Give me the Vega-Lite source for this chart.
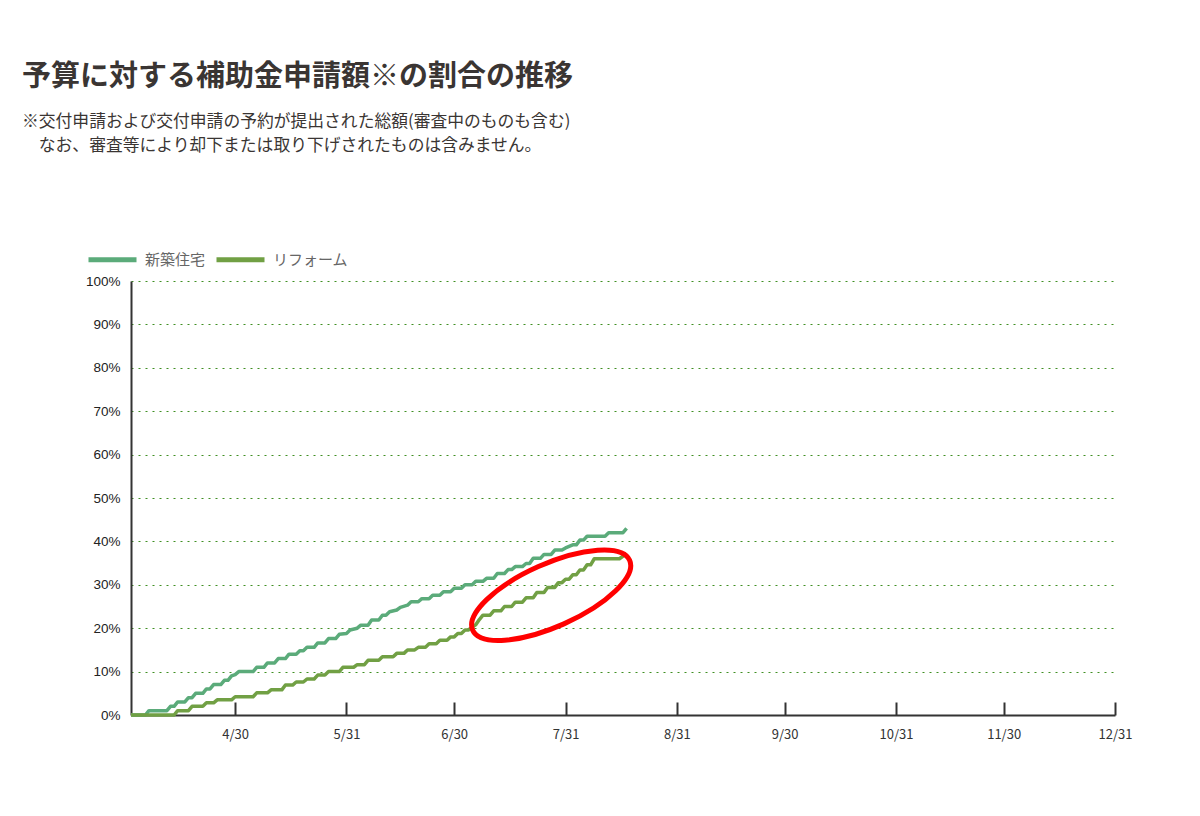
{
  "$schema": "https://vega.github.io/schema/vega-lite/v6.json",
  "width": 984,
  "height": 434,
  "autosize": "none",
  "padding": {"left": 131, "top": 281, "right": 85, "bottom": 101},
  "background": "white",
  "title": {
    "text": "予算に対する補助金申請額※の割合の推移",
    "subtitle": ["※交付申請および交付申請の予約が提出された総額(審査中のものも含む)", "\u200b\u3000なお、審査等により却下または取り下げされたものは含みません。"],
    "anchor": "start",
    "frame": "group",
    "dx": -109,
    "offset": 78,
    "font": "Noto Sans CJK JP",
    "fontSize": 29,
    "fontWeight": "bold",
    "color": "#3a3533",
    "subtitleFont": "Noto Sans CJK JP",
    "subtitleFontSize": 16.8,
    "subtitleColor": "#3a3533",
    "subtitlePadding": 22,
    "subtitleLineHeight": 24
  },
  "config": {
    "view": {"stroke": null},
    "font": "Noto Sans CJK JP"
  },
  "layer": [
    {
      "data": {
        "values": [
          {"series": "新築住宅", "date": "2024-04-01", "value": 0},
          {"series": "新築住宅", "date": "2024-04-05", "value": 0},
          {"series": "新築住宅", "date": "2024-04-06", "value": 1.0},
          {"series": "新築住宅", "date": "2024-04-11", "value": 1.0},
          {"series": "新築住宅", "date": "2024-04-12", "value": 2.0},
          {"series": "新築住宅", "date": "2024-04-13", "value": 2.0},
          {"series": "新築住宅", "date": "2024-04-14", "value": 3.0},
          {"series": "新築住宅", "date": "2024-04-16", "value": 3.0},
          {"series": "新築住宅", "date": "2024-04-17", "value": 4.0},
          {"series": "新築住宅", "date": "2024-04-18", "value": 4.0},
          {"series": "新築住宅", "date": "2024-04-19", "value": 5.0},
          {"series": "新築住宅", "date": "2024-04-21", "value": 5.0},
          {"series": "新築住宅", "date": "2024-04-22", "value": 6.0},
          {"series": "新築住宅", "date": "2024-04-23", "value": 6.0},
          {"series": "新築住宅", "date": "2024-04-24", "value": 7.0},
          {"series": "新築住宅", "date": "2024-04-26", "value": 7.0},
          {"series": "新築住宅", "date": "2024-04-27", "value": 8.0},
          {"series": "新築住宅", "date": "2024-04-28", "value": 8.0},
          {"series": "新築住宅", "date": "2024-04-29", "value": 9.0},
          {"series": "新築住宅", "date": "2024-04-30", "value": 9.3},
          {"series": "新築住宅", "date": "2024-05-01", "value": 10.0},
          {"series": "新築住宅", "date": "2024-05-05", "value": 10.0},
          {"series": "新築住宅", "date": "2024-05-06", "value": 11.0},
          {"series": "新築住宅", "date": "2024-05-08", "value": 11.0},
          {"series": "新築住宅", "date": "2024-05-09", "value": 12.0},
          {"series": "新築住宅", "date": "2024-05-11", "value": 12.0},
          {"series": "新築住宅", "date": "2024-05-12", "value": 13.0},
          {"series": "新築住宅", "date": "2024-05-14", "value": 13.0},
          {"series": "新築住宅", "date": "2024-05-15", "value": 14.0},
          {"series": "新築住宅", "date": "2024-05-17", "value": 14.0},
          {"series": "新築住宅", "date": "2024-05-18", "value": 14.8},
          {"series": "新築住宅", "date": "2024-05-19", "value": 14.8},
          {"series": "新築住宅", "date": "2024-05-20", "value": 15.6},
          {"series": "新築住宅", "date": "2024-05-22", "value": 15.6},
          {"series": "新築住宅", "date": "2024-05-23", "value": 16.6},
          {"series": "新築住宅", "date": "2024-05-25", "value": 16.6},
          {"series": "新築住宅", "date": "2024-05-26", "value": 17.6},
          {"series": "新築住宅", "date": "2024-05-28", "value": 17.6},
          {"series": "新築住宅", "date": "2024-05-29", "value": 18.6},
          {"series": "新築住宅", "date": "2024-05-31", "value": 18.8},
          {"series": "新築住宅", "date": "2024-06-01", "value": 19.6},
          {"series": "新築住宅", "date": "2024-06-03", "value": 20.0},
          {"series": "新築住宅", "date": "2024-06-04", "value": 20.7},
          {"series": "新築住宅", "date": "2024-06-06", "value": 20.7},
          {"series": "新築住宅", "date": "2024-06-07", "value": 21.9},
          {"series": "新築住宅", "date": "2024-06-09", "value": 21.9},
          {"series": "新築住宅", "date": "2024-06-10", "value": 23.0},
          {"series": "新築住宅", "date": "2024-06-11", "value": 23.0},
          {"series": "新築住宅", "date": "2024-06-12", "value": 23.8},
          {"series": "新築住宅", "date": "2024-06-14", "value": 24.2},
          {"series": "新築住宅", "date": "2024-06-15", "value": 24.8},
          {"series": "新築住宅", "date": "2024-06-17", "value": 25.3},
          {"series": "新築住宅", "date": "2024-06-18", "value": 26.1},
          {"series": "新築住宅", "date": "2024-06-20", "value": 26.1},
          {"series": "新築住宅", "date": "2024-06-21", "value": 26.8},
          {"series": "新築住宅", "date": "2024-06-23", "value": 26.8},
          {"series": "新築住宅", "date": "2024-06-24", "value": 27.6},
          {"series": "新築住宅", "date": "2024-06-26", "value": 27.6},
          {"series": "新築住宅", "date": "2024-06-27", "value": 28.4},
          {"series": "新築住宅", "date": "2024-06-29", "value": 28.4},
          {"series": "新築住宅", "date": "2024-06-30", "value": 29.2},
          {"series": "新築住宅", "date": "2024-07-02", "value": 29.2},
          {"series": "新築住宅", "date": "2024-07-03", "value": 30.0},
          {"series": "新築住宅", "date": "2024-07-05", "value": 30.0},
          {"series": "新築住宅", "date": "2024-07-06", "value": 30.8},
          {"series": "新築住宅", "date": "2024-07-08", "value": 30.8},
          {"series": "新築住宅", "date": "2024-07-09", "value": 31.5},
          {"series": "新築住宅", "date": "2024-07-11", "value": 31.5},
          {"series": "新築住宅", "date": "2024-07-12", "value": 32.6},
          {"series": "新築住宅", "date": "2024-07-14", "value": 32.6},
          {"series": "新築住宅", "date": "2024-07-15", "value": 33.5},
          {"series": "新築住宅", "date": "2024-07-16", "value": 33.5},
          {"series": "新築住宅", "date": "2024-07-17", "value": 34.2},
          {"series": "新築住宅", "date": "2024-07-19", "value": 34.2},
          {"series": "新築住宅", "date": "2024-07-20", "value": 34.9},
          {"series": "新築住宅", "date": "2024-07-21", "value": 34.9},
          {"series": "新築住宅", "date": "2024-07-22", "value": 36.1},
          {"series": "新築住宅", "date": "2024-07-24", "value": 36.1},
          {"series": "新築住宅", "date": "2024-07-25", "value": 37.0},
          {"series": "新築住宅", "date": "2024-07-27", "value": 37.0},
          {"series": "新築住宅", "date": "2024-07-28", "value": 38.0},
          {"series": "新築住宅", "date": "2024-07-30", "value": 38.0},
          {"series": "新築住宅", "date": "2024-07-31", "value": 38.5},
          {"series": "新築住宅", "date": "2024-08-02", "value": 39.2},
          {"series": "新築住宅", "date": "2024-08-03", "value": 39.2},
          {"series": "新築住宅", "date": "2024-08-04", "value": 40.3},
          {"series": "新築住宅", "date": "2024-08-05", "value": 40.3},
          {"series": "新築住宅", "date": "2024-08-06", "value": 41.2},
          {"series": "新築住宅", "date": "2024-08-11", "value": 41.2},
          {"series": "新築住宅", "date": "2024-08-12", "value": 42.0},
          {"series": "新築住宅", "date": "2024-08-16", "value": 42.0},
          {"series": "新築住宅", "date": "2024-08-17", "value": 43.0},
          {"series": "リフォーム", "date": "2024-04-01", "value": 0},
          {"series": "リフォーム", "date": "2024-04-13", "value": 0},
          {"series": "リフォーム", "date": "2024-04-14", "value": 1.0},
          {"series": "リフォーム", "date": "2024-04-17", "value": 1.0},
          {"series": "リフォーム", "date": "2024-04-18", "value": 2.0},
          {"series": "リフォーム", "date": "2024-04-21", "value": 2.0},
          {"series": "リフォーム", "date": "2024-04-22", "value": 2.8},
          {"series": "リフォーム", "date": "2024-04-24", "value": 2.8},
          {"series": "リフォーム", "date": "2024-04-25", "value": 3.5},
          {"series": "リフォーム", "date": "2024-04-29", "value": 3.5},
          {"series": "リフォーム", "date": "2024-04-30", "value": 4.2},
          {"series": "リフォーム", "date": "2024-05-05", "value": 4.2},
          {"series": "リフォーム", "date": "2024-05-06", "value": 5.1},
          {"series": "リフォーム", "date": "2024-05-09", "value": 5.1},
          {"series": "リフォーム", "date": "2024-05-10", "value": 5.8},
          {"series": "リフォーム", "date": "2024-05-13", "value": 5.8},
          {"series": "リフォーム", "date": "2024-05-14", "value": 6.9},
          {"series": "リフォーム", "date": "2024-05-16", "value": 6.9},
          {"series": "リフォーム", "date": "2024-05-17", "value": 7.6},
          {"series": "リフォーム", "date": "2024-05-19", "value": 7.6},
          {"series": "リフォーム", "date": "2024-05-20", "value": 8.3},
          {"series": "リフォーム", "date": "2024-05-22", "value": 8.3},
          {"series": "リフォーム", "date": "2024-05-23", "value": 9.2},
          {"series": "リフォーム", "date": "2024-05-25", "value": 9.2},
          {"series": "リフォーム", "date": "2024-05-26", "value": 10.0},
          {"series": "リフォーム", "date": "2024-05-29", "value": 10.0},
          {"series": "リフォーム", "date": "2024-05-30", "value": 11.0},
          {"series": "リフォーム", "date": "2024-06-02", "value": 11.0},
          {"series": "リフォーム", "date": "2024-06-03", "value": 11.6},
          {"series": "リフォーム", "date": "2024-06-05", "value": 11.6},
          {"series": "リフォーム", "date": "2024-06-06", "value": 12.6},
          {"series": "リフォーム", "date": "2024-06-09", "value": 12.6},
          {"series": "リフォーム", "date": "2024-06-10", "value": 13.4},
          {"series": "リフォーム", "date": "2024-06-13", "value": 13.4},
          {"series": "リフォーム", "date": "2024-06-14", "value": 14.2},
          {"series": "リフォーム", "date": "2024-06-16", "value": 14.2},
          {"series": "リフォーム", "date": "2024-06-17", "value": 15.0},
          {"series": "リフォーム", "date": "2024-06-19", "value": 15.0},
          {"series": "リフォーム", "date": "2024-06-20", "value": 15.6},
          {"series": "リフォーム", "date": "2024-06-22", "value": 15.6},
          {"series": "リフォーム", "date": "2024-06-23", "value": 16.4},
          {"series": "リフォーム", "date": "2024-06-25", "value": 16.4},
          {"series": "リフォーム", "date": "2024-06-26", "value": 17.2},
          {"series": "リフォーム", "date": "2024-06-28", "value": 17.2},
          {"series": "リフォーム", "date": "2024-06-29", "value": 18.0},
          {"series": "リフォーム", "date": "2024-06-30", "value": 18.0},
          {"series": "リフォーム", "date": "2024-07-01", "value": 18.8},
          {"series": "リフォーム", "date": "2024-07-02", "value": 18.8},
          {"series": "リフォーム", "date": "2024-07-03", "value": 19.6},
          {"series": "リフォーム", "date": "2024-07-04", "value": 19.6},
          {"series": "リフォーム", "date": "2024-07-05", "value": 20.3},
          {"series": "リフォーム", "date": "2024-07-06", "value": 20.8},
          {"series": "リフォーム", "date": "2024-07-07", "value": 22.0},
          {"series": "リフォーム", "date": "2024-07-08", "value": 23.0},
          {"series": "リフォーム", "date": "2024-07-10", "value": 23.0},
          {"series": "リフォーム", "date": "2024-07-11", "value": 24.0},
          {"series": "リフォーム", "date": "2024-07-13", "value": 24.0},
          {"series": "リフォーム", "date": "2024-07-14", "value": 25.0},
          {"series": "リフォーム", "date": "2024-07-16", "value": 25.0},
          {"series": "リフォーム", "date": "2024-07-17", "value": 26.0},
          {"series": "リフォーム", "date": "2024-07-19", "value": 26.0},
          {"series": "リフォーム", "date": "2024-07-20", "value": 27.0},
          {"series": "リフォーム", "date": "2024-07-22", "value": 27.0},
          {"series": "リフォーム", "date": "2024-07-23", "value": 28.2},
          {"series": "リフォーム", "date": "2024-07-25", "value": 28.2},
          {"series": "リフォーム", "date": "2024-07-26", "value": 29.4},
          {"series": "リフォーム", "date": "2024-07-28", "value": 29.4},
          {"series": "リフォーム", "date": "2024-07-29", "value": 30.5},
          {"series": "リフォーム", "date": "2024-07-30", "value": 30.5},
          {"series": "リフォーム", "date": "2024-07-31", "value": 31.3},
          {"series": "リフォーム", "date": "2024-08-01", "value": 31.3},
          {"series": "リフォーム", "date": "2024-08-02", "value": 32.3},
          {"series": "リフォーム", "date": "2024-08-03", "value": 32.3},
          {"series": "リフォーム", "date": "2024-08-04", "value": 33.4},
          {"series": "リフォーム", "date": "2024-08-05", "value": 33.4},
          {"series": "リフォーム", "date": "2024-08-06", "value": 34.6},
          {"series": "リフォーム", "date": "2024-08-07", "value": 34.6},
          {"series": "リフォーム", "date": "2024-08-08", "value": 36.0},
          {"series": "リフォーム", "date": "2024-08-15", "value": 36.0},
          {"series": "リフォーム", "date": "2024-08-17", "value": 37.2}
        ]
      },
      "mark": {"type": "line", "strokeWidth": 3.5, "strokeJoin": "round"},
      "encoding": {
        "x": {
          "field": "date",
          "type": "temporal",
          "scale": {"type": "utc", "domain": [{"year": 2024, "month": 4, "date": 1, "utc": true}, {"year": 2024, "month": 12, "date": 31, "utc": true}]},
          "axis": {
            "title": null,
            "grid": false,
            "values": [
              {"year": 2024, "month": 4, "date": 30, "utc": true},
              {"year": 2024, "month": 5, "date": 31, "utc": true},
              {"year": 2024, "month": 6, "date": 30, "utc": true},
              {"year": 2024, "month": 7, "date": 31, "utc": true},
              {"year": 2024, "month": 8, "date": 31, "utc": true},
              {"year": 2024, "month": 9, "date": 30, "utc": true},
              {"year": 2024, "month": 10, "date": 31, "utc": true},
              {"year": 2024, "month": 11, "date": 30, "utc": true},
              {"year": 2024, "month": 12, "date": 31, "utc": true}
            ],
            "format": "%-m/%-d",
            "domainColor": "#333333",
            "domainWidth": 2,
            "tickColor": "#333333",
            "tickWidth": 2,
            "tickSize": -13,
            "labelPadding": 26,
            "labelFont": "Noto Sans CJK JP",
            "labelFontSize": 13,
            "labelColor": "#333333",
            "labelFlush": false,
            "labelOverlap": false,
            "zindex": 0
          }
        },
        "y": {
          "field": "value",
          "type": "quantitative",
          "scale": {"domain": [0, 100]},
          "axis": {
            "title": null,
            "values": [0, 10, 20, 30, 40, 50, 60, 70, 80, 90, 100],
            "labelExpr": "datum.value + '%'",
            "ticks": false,
            "labelPadding": 11,
            "domainColor": "#333333",
            "domainWidth": 2,
            "grid": true,
            "gridColor": "#3f8f22",
            "gridDash": [2, 5],
            "gridWidth": 1,
            "labelFont": "Liberation Sans",
            "labelFontSize": 13.5,
            "labelColor": "#222222",
            "zindex": 0
          }
        },
        "color": {
          "field": "series",
          "type": "nominal",
          "scale": {"domain": ["新築住宅", "リフォーム"], "range": ["#5bab7a", "#71a044"]},
          "legend": {
            "orient": "none",
            "legendX": -45,
            "legendY": -48,
            "direction": "horizontal",
            "title": null,
            "symbolType": "stroke",
            "symbolSize": 2304,
            "symbolStrokeWidth": 5,
            "labelFont": "Noto Sans CJK JP",
            "labelFontSize": 15,
            "labelColor": "#666666",
            "labelOffset": 6,
            "columnPadding": 0
          }
        }
      }
    },
    {
      "data": {"values": [{"date": "2024-07-27", "value": 27.6}]},
      "mark": {
        "type": "point",
        "shape": "M -1 0 C -1 -0.2016 -0.5523 -0.365 0 -0.365 C 0.5523 -0.365 1 -0.2016 1 0 C 1 0.2016 0.5523 0.365 0 0.365 C -0.5523 0.365 -1 0.2016 -1 0 Z",
        "filled": false,
        "stroke": "#ff0000",
        "strokeWidth": 5,
        "opacity": 1,
        "size": 29500,
        "angle": -24
      },
      "encoding": {
        "x": {"field": "date", "type": "temporal"},
        "y": {"field": "value", "type": "quantitative"}
      }
    }
  ]
}
